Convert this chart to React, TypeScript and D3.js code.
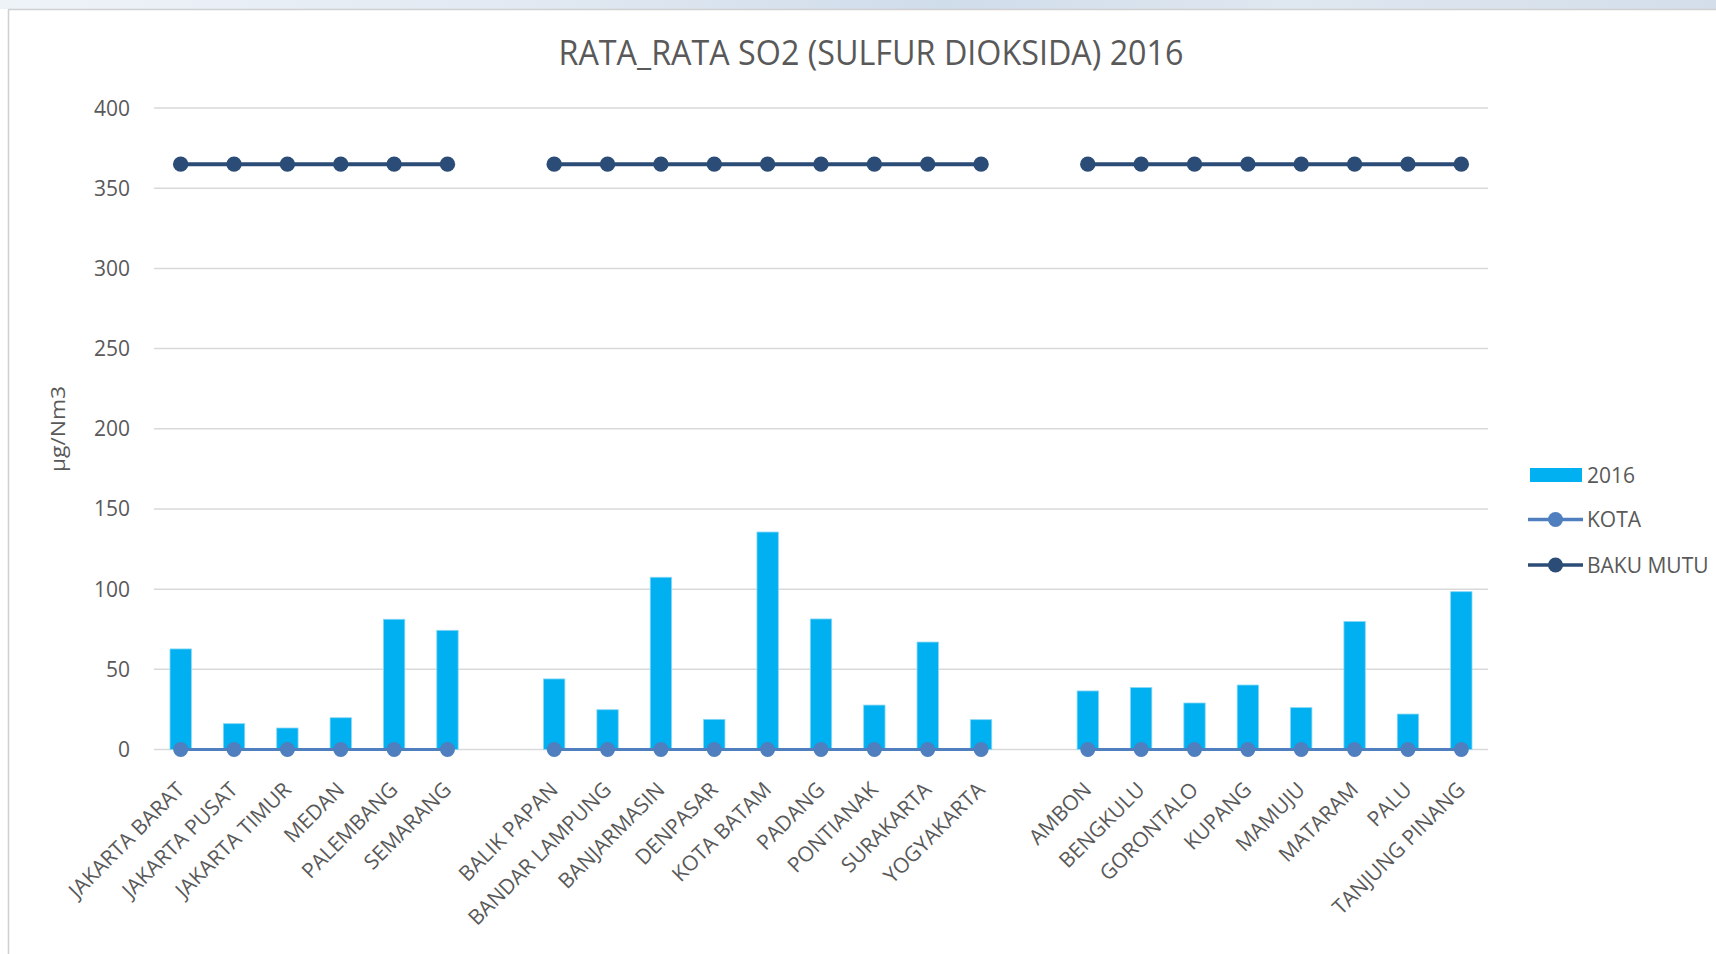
import React from "react";
import * as d3 from "d3";

const categories: string[] = [
  "JAKARTA BARAT", "JAKARTA PUSAT", "JAKARTA TIMUR", "MEDAN", "PALEMBANG", "SEMARANG",
  "",
  "BALIK PAPAN", "BANDAR LAMPUNG", "BANJARMASIN", "DENPASAR", "KOTA BATAM", "PADANG",
  "PONTIANAK", "SURAKARTA", "YOGYAKARTA",
  "",
  "AMBON", "BENGKULU", "GORONTALO", "KUPANG", "MAMUJU", "MATARAM", "PALU", "TANJUNG PINANG",
];

const values2016: (number | null)[] = [
  62.7, 16.1, 13.4, 19.8, 81.2, 74.3,
  null,
  44.0, 24.8, 107.4, 18.8, 135.6, 81.4, 27.7, 67.0, 18.6,
  null,
  36.5, 38.6, 29.0, 40.2, 26.1, 79.8, 22.1, 98.4,
];

const kota: (number | null)[] = [
  0, 0, 0, 0, 0, 0,
  null,
  0, 0, 0, 0, 0, 0, 0, 0, 0,
  null,
  0, 0, 0, 0, 0, 0, 0, 0,
];

const bakuMutu: (number | null)[] = [
  365, 365, 365, 365, 365, 365,
  null,
  365, 365, 365, 365, 365, 365, 365, 365, 365,
  null,
  365, 365, 365, 365, 365, 365, 365, 365,
];

const yTicks: number[] = [0, 50, 100, 150, 200, 250, 300, 350, 400];

const title = "RATA_RATA SO2 (SULFUR DIOKSIDA) 2016";
const yTitle = "µg/Nm3";
const legendLabels = ["2016", "KOTA", "BAKU MUTU"];

const W = 1716;
const H = 954;
const BAR = "#00B0F0";
const KOTA_C = "#4F7FBF";
const BAKU_C = "#2B4C77";
const TEXT = "#595959";
const FONT = "'Open Sans', 'DejaVu Sans', sans-serif";

export default function App() {
  const x = d3
    .scaleBand<number>()
    .domain(categories.map((_, i) => i))
    .range([154, 1488])
    .padding(0);
  const y = d3.scaleLinear().domain([0, 400]).range([749.5, 108]);
  const bw = x.bandwidth() * 0.4;
  const cx = (i: number) => (x(i) as number) + x.bandwidth() / 2;

  const line = d3
    .line<number | null>()
    .defined((d) => d !== null)
    .x((_, i) => cx(i))
    .y((d) => y(d as number));

  return (
    <svg
      width={W}
      height={H}
      style={{ position: "absolute", left: 0, top: 0, background: "#fff" }}
      fontFamily={FONT}
    >
      <defs>
        <linearGradient id="topstrip" x1="0" x2="1" y1="0" y2="0">
          <stop offset="0" stopColor="#eef3f8" />
          <stop offset="0.3" stopColor="#e2e9f2" />
          <stop offset="0.55" stopColor="#cfdcea" />
          <stop offset="0.75" stopColor="#dfe7f0" />
          <stop offset="1" stopColor="#d3deea" />
        </linearGradient>
      </defs>
      <rect x={0} y={0} width={W} height={9} fill="url(#topstrip)" />
      <line x1={8} x2={W} y1={9.5} y2={9.5} stroke="#d0d0d0" strokeWidth={1.5} />
      <line x1={8.5} x2={8.5} y1={9.5} y2={H} stroke="#d0d0d0" strokeWidth={1.5} />

      <text
        x={871}
        y={65}
        textAnchor="middle"
        fontSize={34}
        fill={TEXT}
        textLength={625}
        lengthAdjust="spacingAndGlyphs"
      >
        {title}
      </text>

      {yTicks.map((t) => (
        <g key={t}>
          <line x1={154} x2={1488} y1={y(t)} y2={y(t)} stroke="#d9d9d9" strokeWidth={1.5} />
          <text x={130} y={y(t)} dy="0.36em" textAnchor="end" fontSize={21} fill={TEXT}>
            {t}
          </text>
        </g>
      ))}

      <text
        transform={`translate(65,429) rotate(-90)`}
        textAnchor="middle"
        fontSize={20}
        fill={TEXT}
        textLength={86}
        lengthAdjust="spacingAndGlyphs"
      >
        {yTitle}
      </text>

      {values2016.map((v, i) =>
        v === null ? null : (
          <rect
            key={i}
            x={cx(i) - bw / 2}
            y={y(v)}
            width={bw}
            height={y(0) - y(v)}
            fill={BAR}
            stroke="#86d6f5"
            strokeWidth={0.8}
          />
        )
      )}

      <path d={line(kota) || ""} fill="none" stroke={KOTA_C} strokeWidth={3} />
      {kota.map((v, i) =>
        v === null ? null : <circle key={i} cx={cx(i)} cy={y(v)} r={7.5} fill={KOTA_C} />
      )}

      <path d={line(bakuMutu) || ""} fill="none" stroke={BAKU_C} strokeWidth={4} />
      {bakuMutu.map((v, i) =>
        v === null ? null : <circle key={i} cx={cx(i)} cy={y(v)} r={7.7} fill={BAKU_C} />
      )}

      {categories.map((c, i) =>
        c === "" ? null : (
          <text
            key={i}
            transform={`translate(${cx(i) + 5},791) rotate(-45)`}
            textAnchor="end"
            fontSize={21}
            fill={TEXT}
          >
            {c}
          </text>
        )
      )}

      <g>
        <rect x={1530} y={468} width={52} height={14} fill={BAR} />
        <text x={1587} y={475} dy="0.36em" fontSize={21} fill={TEXT}>
          {legendLabels[0]}
        </text>
        <line x1={1528} x2={1583} y1={519.5} y2={519.5} stroke={KOTA_C} strokeWidth={3.5} />
        <circle cx={1555.5} cy={519.5} r={7.5} fill={KOTA_C} />
        <text x={1587} y={519.5} dy="0.36em" fontSize={21} fill={TEXT}>
          {legendLabels[1]}
        </text>
        <line x1={1528} x2={1583} y1={565} y2={565} stroke={BAKU_C} strokeWidth={3.5} />
        <circle cx={1555.5} cy={565} r={7.5} fill={BAKU_C} />
        <text x={1587} y={565} dy="0.36em" fontSize={21} fill={TEXT}>
          {legendLabels[2]}
        </text>
      </g>
    </svg>
  );
}
